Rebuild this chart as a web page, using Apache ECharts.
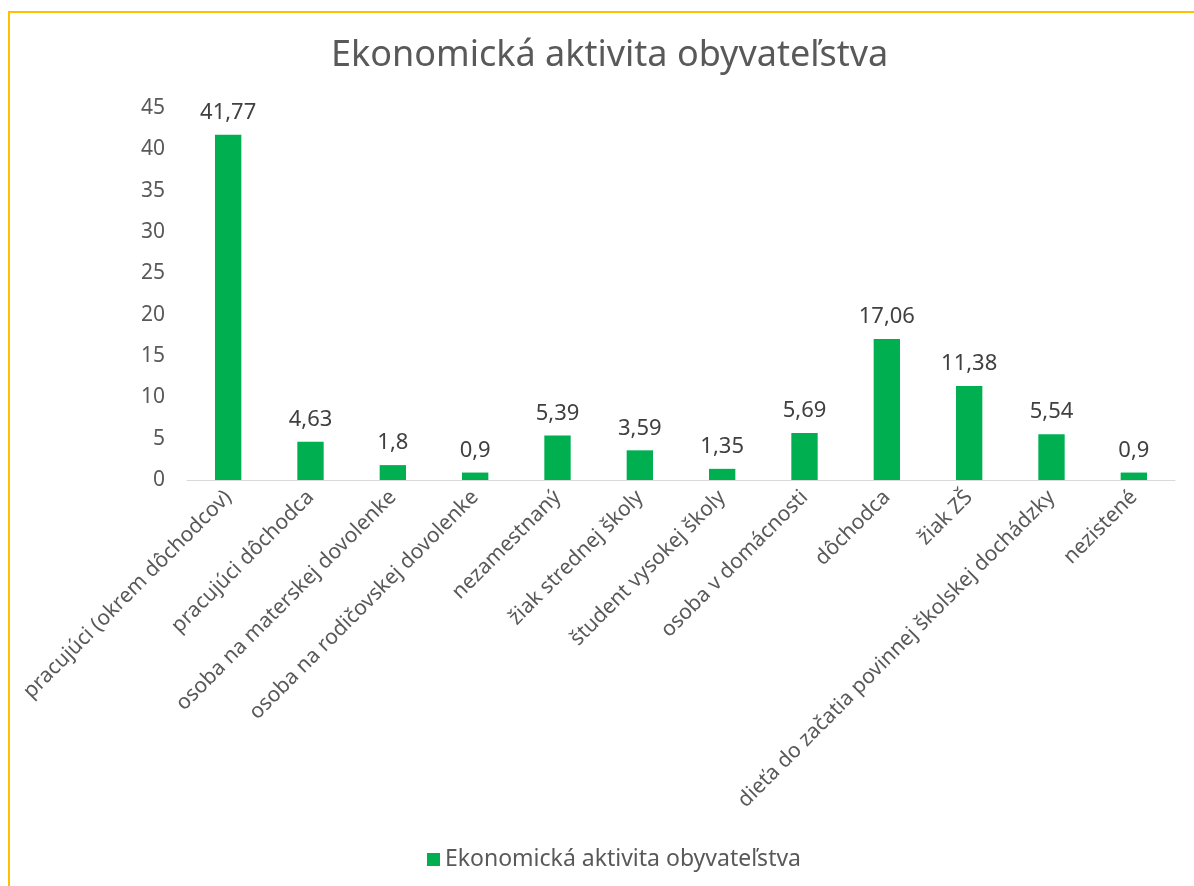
<!DOCTYPE html>
<html>
<head>
<meta charset="utf-8">
<script src="https://cdn.jsdelivr.net/npm/echarts@6/dist/echarts.min.js"></script>
<style>
  html, body { margin: 0; padding: 0; background: #fff; }
  #frame { position: absolute; left: 8px; top: 11px; width: 1200px; height: 900px;
           border-left: 2px solid #FFC000; border-top: 2px solid #FFC000; }
  #chart { position: absolute; left: 0; top: 0; width: 1194px; height: 886px; }
</style>
</head>
<body>
<div id="frame"></div>
<div id="chart"></div>
<script>
// kategórie a hodnoty
var categories = [
  'pracujúci (okrem dôchodcov)',
  'pracujúci dôchodca',
  'osoba na materskej dovolenke',
  'osoba na rodičovskej dovolenke',
  'nezamestnaný',
  'žiak strednej školy',
  'študent vysokej školy',
  'osoba v domácnosti',
  'dôchodca',
  'žiak ZŠ',
  'dieťa do začatia povinnej školskej dochádzky',
  'nezistené'
];
var values = [41.77, 4.63, 1.8, 0.9, 5.39, 3.59, 1.35, 5.69, 17.06, 11.38, 5.54, 0.9];
var seriesName = 'Ekonomická aktivita obyvateľstva';

var font = '"Noto Sans", "DejaVu Sans", sans-serif';

var myChart = echarts.init(document.getElementById('chart'));
myChart.setOption({
  animation: false,
  title: {
    text: 'Ekonomická aktivita obyvateľstva',
    left: 326,
    top: 33,
    textStyle: { color: '#595959', fontSize: 36, fontWeight: 'normal', fontFamily: font }
  },
  legend: {
    top: 843,
    left: 422,
    itemWidth: 13,
    itemHeight: 13,
    itemGap: 5,
    icon: 'rect',
    textStyle: { color: '#595959', fontSize: 23, fontFamily: font }
  },
  grid: {
    left: 187,
    right: 19,
    top: 108,
    bottom: 406,
    containLabel: false
  },
  xAxis: {
    type: 'category',
    data: categories,
    axisTick: { show: false },
    axisLine: { lineStyle: { color: '#d9d9d9', width: 1 } },
    axisLabel: {
      rotate: 45,
      interval: 0,
      color: '#595959',
      fontSize: 21,
      fontFamily: font,
      margin: 14
    }
  },
  yAxis: {
    type: 'value',
    min: 0,
    max: 45,
    interval: 5,
    splitLine: { show: false },
    axisLine: { show: false },
    axisTick: { show: false },
    axisLabel: { color: '#595959', fontSize: 21, fontFamily: font, margin: 22 }
  },
  series: [{
    name: seriesName,
    type: 'bar',
    data: values,
    barWidth: '32%',
    itemStyle: { color: '#00B050' },
    label: {
      show: true,
      position: 'top',
      distance: 11,
      color: '#404040',
      fontSize: 22,
      fontFamily: font,
      formatter: function (p) { return String(p.value).replace('.', ','); }
    }
  }]
});
</script>
</body>
</html>
